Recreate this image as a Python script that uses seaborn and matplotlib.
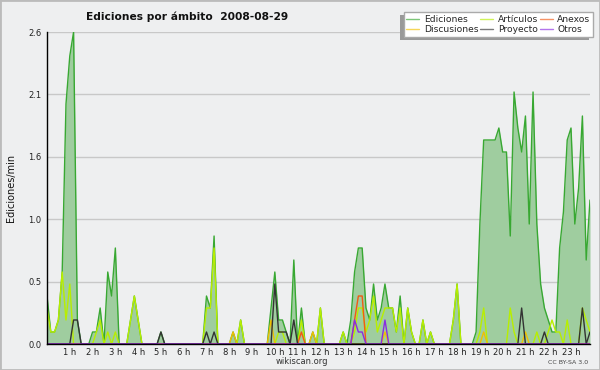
"""Edits per minute by namespace on one day (10-minute buckets)."""

import matplotlib

matplotlib.use("Agg")
import matplotlib.pyplot as plt
import numpy as np
import pandas as pd
import seaborn as sns
from matplotlib.lines import Line2D
from matplotlib.patches import Rectangle

TITLE = "Ediciones por ámbito  2008-08-29"
Y_LABEL = "Ediciones/min"
HOUR_LABELS = [f"{h} h" for h in range(1, 24)]

# one value per 10-minute bucket, six per hour (00:00 ... 23:50)
ediciones = [
    0.4, 0.1, 0.1, 0.2, 0.6, 2.0,
    2.4, 2.6, 0.2, 0.0, 0.0, 0.0,
    0.1, 0.1, 0.3, 0.0, 0.6, 0.4,
    0.8, 0.0, 0.0, 0.0, 0.2, 0.4,
    0.2, 0.0, 0.0, 0.0, 0.0, 0.0,
    0.1, 0.0, 0.0, 0.0, 0.0, 0.0,
    0.0, 0.0, 0.0, 0.0, 0.0, 0.0,
    0.4, 0.3, 0.9, 0.0, 0.0, 0.0,
    0.0, 0.1, 0.0, 0.2, 0.0, 0.0,
    0.0, 0.0, 0.0, 0.0, 0.0, 0.3,
    0.6, 0.2, 0.2, 0.1, 0.0, 0.7,
    0.0, 0.3, 0.0, 0.0, 0.1, 0.0,
    0.3, 0.0, 0.0, 0.0, 0.0, 0.0,
    0.1, 0.0, 0.2, 0.6, 0.8, 0.8,
    0.3, 0.2, 0.5, 0.2, 0.3, 0.5,
    0.3, 0.3, 0.1, 0.4, 0.0, 0.3,
    0.1, 0.0, 0.0, 0.2, 0.0, 0.1,
    0.0, 0.0, 0.0, 0.0, 0.0, 0.2,
    0.5, 0.0, 0.0, 0.0, 0.0, 0.1,
    1.0, 1.7, 1.7, 1.7, 1.7, 1.8,
    1.6, 1.6, 0.9, 2.1, 1.8, 1.6,
    1.9, 1.0, 2.1, 1.0, 0.5, 0.3,
    0.2, 0.1, 0.1, 0.8, 1.1, 1.7,
    1.8, 1.0, 1.3, 1.9, 0.7, 1.2,
]
articulos = [
    0.3, 0.1, 0.1, 0.2, 0.6, 0.2,
    0.5, 0.0, 0.0, 0.0, 0.0, 0.0,
    0.0, 0.1, 0.2, 0.0, 0.1, 0.0,
    0.1, 0.0, 0.0, 0.0, 0.2, 0.4,
    0.2, 0.0, 0.0, 0.0, 0.0, 0.0,
    0.0, 0.0, 0.0, 0.0, 0.0, 0.0,
    0.0, 0.0, 0.0, 0.0, 0.0, 0.0,
    0.3, 0.3, 0.8, 0.0, 0.0, 0.0,
    0.0, 0.0, 0.0, 0.2, 0.0, 0.0,
    0.0, 0.0, 0.0, 0.0, 0.0, 0.0,
    0.0, 0.1, 0.1, 0.0, 0.0, 0.0,
    0.0, 0.2, 0.0, 0.0, 0.0, 0.0,
    0.3, 0.0, 0.0, 0.0, 0.0, 0.0,
    0.1, 0.0, 0.0, 0.1, 0.3, 0.3,
    0.1, 0.2, 0.4, 0.1, 0.2, 0.3,
    0.3, 0.3, 0.1, 0.3, 0.0, 0.3,
    0.1, 0.0, 0.0, 0.2, 0.0, 0.1,
    0.0, 0.0, 0.0, 0.0, 0.0, 0.2,
    0.5, 0.0, 0.0, 0.0, 0.0, 0.0,
    0.1, 0.3, 0.0, 0.0, 0.0, 0.0,
    0.0, 0.0, 0.3, 0.1, 0.0, 0.0,
    0.0, 0.0, 0.0, 0.1, 0.0, 0.0,
    0.1, 0.2, 0.1, 0.1, 0.0, 0.2,
    0.0, 0.0, 0.0, 0.3, 0.2, 0.1,
]
discusiones = [0.0] * 144
for slot, v in [(49, 0.1), (59, 0.2), (70, 0.1), (89, 0.1), (115, 0.1), (126, 0.1)]:
    discusiones[slot] = v
anexos = [0.0] * 144
for slot, v in [(67, 0.1), (81, 0.2), (82, 0.4), (83, 0.4)]:
    anexos[slot] = v
proyecto = [0.0] * 144
for slot, v in [(7, 0.2), (8, 0.2), (30, 0.1), (42, 0.1), (44, 0.1), (60, 0.5), (61, 0.1),
                (62, 0.1), (63, 0.1), (65, 0.2), (125, 0.3), (131, 0.1), (141, 0.3), (143, 0.1)]:
    proyecto[slot] = v
otros = [0.0] * 144
for slot, v in [(81, 0.2), (82, 0.1), (83, 0.1), (89, 0.2)]:
    otros[slot] = v

series = {
    "Ediciones": ediciones,
    "Artículos": articulos,
    "Discusiones": discusiones,
    "Anexos": anexos,
    "Proyecto": proyecto,
    "Otros": otros,
}
palette = {
    "Ediciones": "#38a832",
    "Artículos": "#b8ee00",
    "Discusiones": "#f0c000",
    "Anexos": "#f25a14",
    "Proyecto": "#333333",
    "Otros": "#8a2be2",
}
legend_order = ["Ediciones", "Discusiones", "Artículos", "Proyecto", "Anexos", "Otros"]

BG = "#eeeff0"
FILL = "#9fcd9f"

slots = np.arange(len(ediciones))
long_df = pd.concat(
    [pd.DataFrame({"slot": slots, "rate": vals, "ambito": name}) for name, vals in series.items()],
    ignore_index=True,
)

sns.set_theme(style="white")
plt.rcParams["font.family"] = ["DejaVu Sans"]

fig = plt.figure(figsize=(6, 3.7), dpi=100, facecolor=BG)
ax = fig.add_axes([47 / 600, 26 / 370, 543 / 600, 312 / 370])
ax.set_facecolor(BG)

ax.fill_between(slots, ediciones, color=FILL, lw=0, zorder=1)
sns.lineplot(
    data=long_df, x="slot", y="rate", hue="ambito", hue_order=list(series),
    palette=palette, estimator=None, sort=False, legend=False, lw=1.0, ax=ax, zorder=2,
)

ymax = 2.6
ax.set_xlim(0, len(ediciones) - 1)
ax.set_ylim(0, ymax)
ax.set_yticks(np.linspace(0, ymax, 6))
ax.set_yticklabels([f"{v:.1f}" for v in np.linspace(0, ymax, 6)])
ax.set_yticks(np.linspace(0, ymax, 21), minor=True)
ax.set_xticks(np.arange(6, 144, 6))
ax.set_xticklabels(HOUR_LABELS)
ax.set_xticks(np.arange(0, 144), minor=True)
ax.tick_params(axis="both", which="both", direction="out", color="black", width=1, length=3)
ax.tick_params(axis="x", labelsize=6, pad=0, labelcolor="#222222")
ax.tick_params(axis="y", labelsize=6, pad=1, labelcolor="#222222")
ax.yaxis.grid(True, color="#c8c8c8", lw=1)
ax.set_axisbelow(True)
for side in ("top", "right"):
    ax.spines[side].set_visible(False)
for side in ("left", "bottom"):
    ax.spines[side].set_color("black")
    ax.spines[side].set_linewidth(1)
ax.set_xlabel("")
ax.set_ylabel(Y_LABEL, fontsize=7, color="#111111")
ax.yaxis.set_label_coords(-0.058, 0.5)

fig.text(187 / 600, 1 - 17 / 370, TITLE, ha="center", va="center", fontsize=7.7,
         fontweight="bold", color="#111111")
fig.text(302 / 600, 1 - 362 / 370, "wikiscan.org", ha="center", va="center",
         fontsize=6, color="#333333")
fig.text(588 / 600, 1 - 362 / 370, "CC BY-SA 3.0", ha="right", va="center",
         fontsize=4.5, color="#444444")

handles = [Line2D([], [], color=palette[n], lw=1, alpha=0.65) for n in legend_order]
leg = fig.legend(
    handles, legend_order, ncol=3, loc="upper right",
    bbox_to_anchor=(593 / 600, 1 - 12 / 370), borderaxespad=0, frameon=True, fancybox=False,
    fontsize=6.6, handlelength=1.4, handletextpad=0.5, columnspacing=0.2,
    labelspacing=0.15, borderpad=0.3,
)
leg.get_frame().set_edgecolor("#aaaaaa")
leg.get_frame().set_facecolor("white")
leg.get_frame().set_alpha(1)
leg.get_frame().set_linewidth(1)
leg.set_zorder(10)

fig.canvas.draw()
bb = leg.get_window_extent().transformed(fig.transFigure.inverted())
shadow = Rectangle((bb.x0 - 4 / 600, bb.y0 - 3 / 370), bb.width, bb.height,
                   transform=fig.transFigure, facecolor="#999999", edgecolor="none", zorder=9)
fig.patches.append(shadow)
fig.patches.append(Rectangle((0, 0), 1, 1, transform=fig.transFigure, fill=False,
                             edgecolor="#bbbbbb", lw=2, zorder=20))

fig.savefig("out.png", dpi=100, facecolor=BG)
plt.close(fig)
